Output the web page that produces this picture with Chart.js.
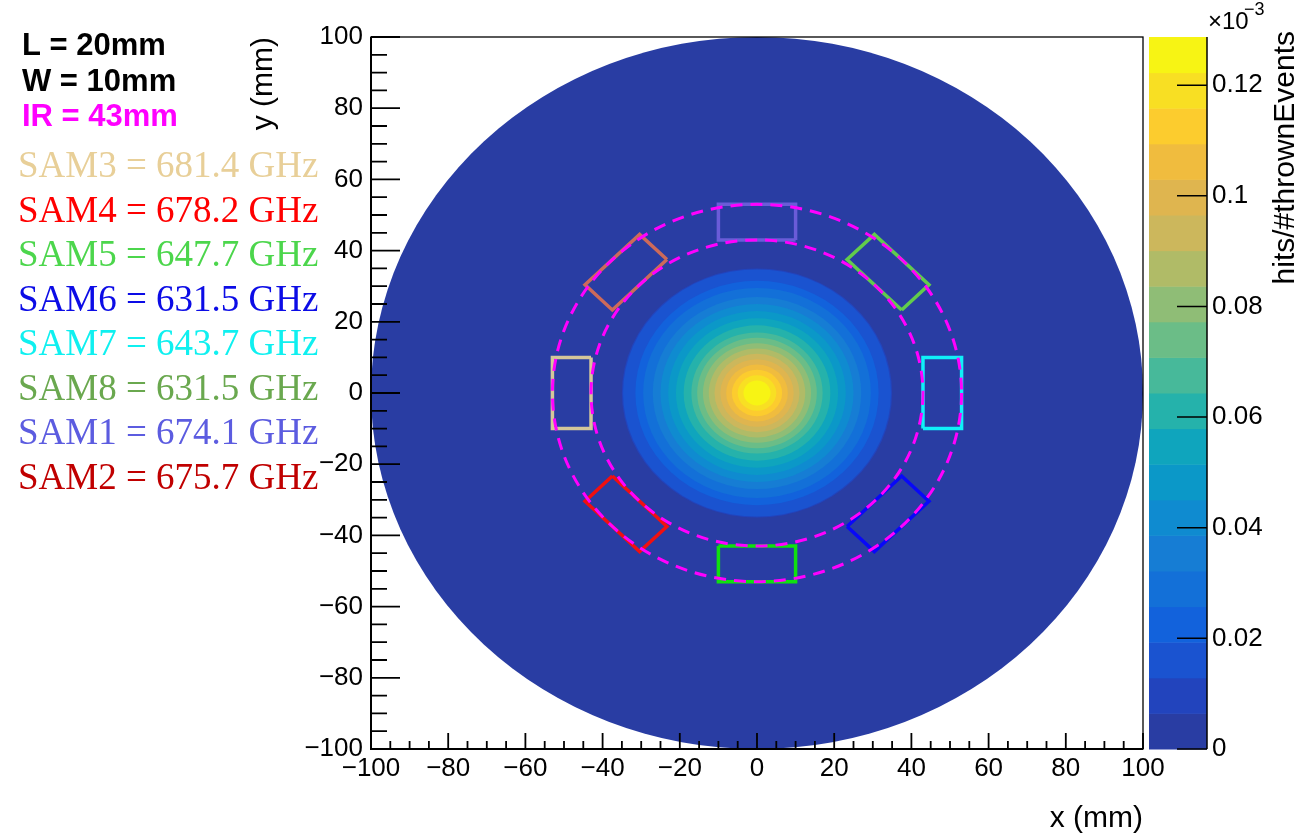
<!DOCTYPE html>
<html>
<head>
<meta charset="utf-8">
<script src="https://cdn.jsdelivr.net/npm/chart.js@4.4.0/dist/chart.umd.min.js"></script>
<style>
  html, body { margin: 0; padding: 0; background: #fff; }
  #wrap { width: 1298px; height: 834px; }
</style>
</head>
<body>
<div id="wrap"><canvas id="c" width="1298" height="834"></canvas></div>
<script>
// pad geometry (mm)
var padLength = 20;
var padWidth = 10;
var innerRadius = 43;
var beamRadius = 100;

// SAM pads, in legend order
var samNames = ["SAM3", "SAM4", "SAM5", "SAM6", "SAM7", "SAM8", "SAM1", "SAM2"];
var samFreqs = [681.4, 678.2, 647.7, 631.5, 643.7, 631.5, 674.1, 675.7];
var samAngles = [180, 225, 270, 315, 0, 45, 90, 135];

// colour axis, x1e-3 hits/#thrownEvents, 20 contour levels
var zMax = 0.1287;
var zLevels = 20;
var zTicks = [0, 0.02, 0.04, 0.06, 0.08, 0.1, 0.12];
// radius (mm) inside which the density is above contour level 1..19
var levelRadius = [35, 34.7, 31.5, 29.5, 27, 25, 23, 21, 19, 17, 15.5, 14, 12.5, 11, 9.5, 8, 6.5, 5, 3.5];

var axisMin = -100;
var axisMax = 100;

// styles
var levelColors = ["#293da3", "#2244bd", "#1a53d0", "#1262dc", "#1370d8", "#167dd4", "#0f8bd0", "#0b98c8",
    "#0fa5bd", "#25b2ab", "#47b99a", "#6bbd87", "#8fbd76", "#b0bb67", "#ccb75c", "#dfb54f",
    "#f0bc3e", "#fccc2e", "#f8df23", "#f7f414"];
var samTextColors = ["#e8cf98", "#ff0000", "#4cd64c", "#0c0ce6", "#0ff0f0", "#6aa84f", "#5c5ce0", "#c00000"];
var samPadColors = ["#d4c69a", "#f01010", "#10e010", "#0808f8", "#10f0f8", "#62cc4c", "#6a5cd8", "#cd6a5a"];

function padCorners(angleDeg) {
    var a = angleDeg * Math.PI / 180;
    var ux = Math.cos(a), uy = Math.sin(a);
    var rc = innerRadius + padWidth / 2;
    var hw = padWidth / 2, hl = padLength / 2;
    var corners = [[-hw, -hl], [hw, -hl], [hw, hl], [-hw, hl], [-hw, -hl]];
    return corners.map(c => ({
        x: rc * ux + c[0] * ux - c[1] * uy,
        y: rc * uy + c[0] * uy + c[1] * ux
    }));
}

var datasets = samNames.map((name, i) => ({
    label: name,
    data: padCorners(samAngles[i]),
    showLine: true,
    fill: false,
    tension: 0,
    pointRadius: 0,
    borderWidth: 3.5,
    borderJoinStyle: 'miter',
    borderColor: samPadColors[i]
}));

function ellipsePath(chart, r) {
    var xs = chart.scales.x, ys = chart.scales.y, ctx = chart.ctx;
    var x0 = xs.getPixelForValue(0), y0 = ys.getPixelForValue(0);
    ctx.beginPath();
    ctx.ellipse(x0, y0, Math.abs(xs.getPixelForValue(r) - x0), Math.abs(ys.getPixelForValue(r) - y0), 0, 0, 2 * Math.PI);
}

var heatmapPlugin = {
    id: 'heatmap',
    beforeDatasetsDraw(chart) {
        var ctx = chart.ctx, a = chart.chartArea;
        ctx.save();
        ctx.beginPath();
        ctx.rect(a.left, a.top, a.right - a.left, a.bottom - a.top);
        ctx.clip();
        ellipsePath(chart, beamRadius);
        ctx.fillStyle = levelColors[0];
        ctx.fill();
        levelRadius.forEach((r, i) => {
            ellipsePath(chart, r);
            ctx.fillStyle = levelColors[i + 1];
            ctx.fill();
        });
        ctx.restore();
    },
    afterDatasetsDraw(chart) {
        var ctx = chart.ctx;
        ctx.save();
        ctx.strokeStyle = "#ff00ff";
        ctx.lineWidth = 3;
        ctx.setLineDash([12, 8]);
        [innerRadius, innerRadius + padWidth].forEach(r => {
            ellipsePath(chart, r);
            ctx.stroke();
        });
        ctx.restore();
    },
    afterDraw(chart) {
        var ctx = chart.ctx, a = chart.chartArea;
        var xs = chart.scales.x, ys = chart.scales.y, zs = chart.scales.z;
        ctx.save();

        // frame
        ctx.strokeStyle = "#000";
        ctx.lineWidth = 1.3;
        ctx.strokeRect(a.left, a.top, a.right - a.left, a.bottom - a.top);
        ctx.lineWidth = 2;
        ctx.beginPath();
        ctx.moveTo(a.left, a.top);
        ctx.lineTo(a.left, a.bottom);
        ctx.lineTo(a.right, a.bottom);
        ctx.stroke();

        // inward ticks, major every 20, minor every 5
        ctx.lineWidth = 1.8;
        ctx.beginPath();
        for (var v = axisMin; v <= axisMax; v += 5) {
            var major = (v % 20 === 0);
            var px = xs.getPixelForValue(v);
            ctx.moveTo(px, a.bottom);
            ctx.lineTo(px, a.bottom - (major ? 16 : 8));
            var py = ys.getPixelForValue(v);
            ctx.moveTo(a.left, py);
            ctx.lineTo(a.left + (major ? 29 : 16), py);
        }
        ctx.stroke();

        // colour bar
        var barL = a.right + 6, barR = a.right + 64;
        for (var k = 0; k < zLevels; k++) {
            var yb = zs.getPixelForValue(k * zMax / zLevels);
            var yt = zs.getPixelForValue((k + 1) * zMax / zLevels);
            ctx.fillStyle = levelColors[k];
            ctx.fillRect(barL, yt, barR - barL, yb - yt + 0.5);
        }
        ctx.lineWidth = 1.5;
        ctx.beginPath();
        ctx.moveTo(barR, a.top);
        ctx.lineTo(barR, a.bottom);
        zTicks.forEach(t => {
            var py = zs.getPixelForValue(t);
            ctx.moveTo(barR, py);
            ctx.lineTo(barR - 30, py);
        });
        ctx.stroke();

        ctx.fillStyle = "#000";
        ctx.textAlign = "left";
        ctx.textBaseline = "alphabetic";
        ctx.font = '24px "Liberation Sans"';
        ctx.fillText("\u00d710", barR + 1, 29);
        ctx.font = '18px "Liberation Sans"';
        ctx.fillText("\u22123", barR + 37, 15);

        ctx.save();
        ctx.translate(1294, a.top - 6);
        ctx.rotate(-Math.PI / 2);
        ctx.font = '30px "Liberation Sans"';
        ctx.textAlign = "right";
        ctx.fillText("hits/#thrownEvents", 0, 0);
        ctx.restore();

        // text legend
        ctx.textAlign = "left";
        ctx.font = 'bold 31px "Liberation Sans"';
        ctx.fillStyle = "#000";
        ctx.fillText("L = " + padLength + "mm", 22, 55);
        ctx.fillText("W = " + padWidth + "mm", 22, 91);
        ctx.fillStyle = "#ff00ff";
        ctx.fillText("IR = " + innerRadius + "mm", 22, 126);
        ctx.font = '37px "Liberation Serif"';
        samNames.forEach((name, i) => {
            ctx.fillStyle = samTextColors[i];
            ctx.fillText(name + " = " + samFreqs[i].toFixed(1) + " GHz", 18, 177 + i * 44.5);
        });
        ctx.restore();
    }
};

var tickFont = { family: "Liberation Sans", size: 26 };
var titleFont = { family: "Liberation Sans", size: 30, lineHeight: 1 };
var minus = v => String(v).replace('-', '\u2212');

new Chart(document.getElementById('c'), {
    type: 'scatter',
    data: { datasets },
    plugins: [heatmapPlugin],
    options: {
        responsive: false,
        animation: false,
        devicePixelRatio: 1,
        layout: { padding: { left: 249, right: 0, top: 37, bottom: 0 } },
        plugins: { legend: { display: false }, tooltip: { enabled: false } },
        scales: {
            x: {
                type: 'linear', min: axisMin, max: axisMax,
                grid: { display: false, drawTicks: false },
                border: { display: false },
                ticks: { stepSize: 20, autoSkip: false, maxRotation: 0, padding: 4, color: "#000", font: tickFont, callback: minus },
                title: { display: true, text: "x (mm)", align: 'end', color: "#000", font: titleFont, padding: 0 },
                afterFit: s => { s.height = 85; }
            },
            y: {
                type: 'linear', min: axisMin, max: axisMax,
                grid: { display: false, drawTicks: false },
                border: { display: false },
                ticks: { stepSize: 20, autoSkip: false, padding: 8, color: "#000", font: tickFont, callback: minus },
                title: { display: true, text: "y (mm)", align: 'end', color: "#000", font: titleFont, padding: 0 },
                afterFit: s => { s.width = 122; }
            },
            z: {
                type: 'linear', position: 'right', min: 0, max: zMax,
                grid: { display: false, drawTicks: true, tickLength: 64 },
                border: { display: false },
                ticks: {
                    stepSize: 0.02, includeBounds: false, autoSkip: false, padding: 5, color: "#000", font: tickFont,
                    callback: v => String(parseFloat(v.toFixed(3)))
                },
                afterFit: s => { s.width = 155; }
            }
        }
    }
});
</script>
</body>
</html>
